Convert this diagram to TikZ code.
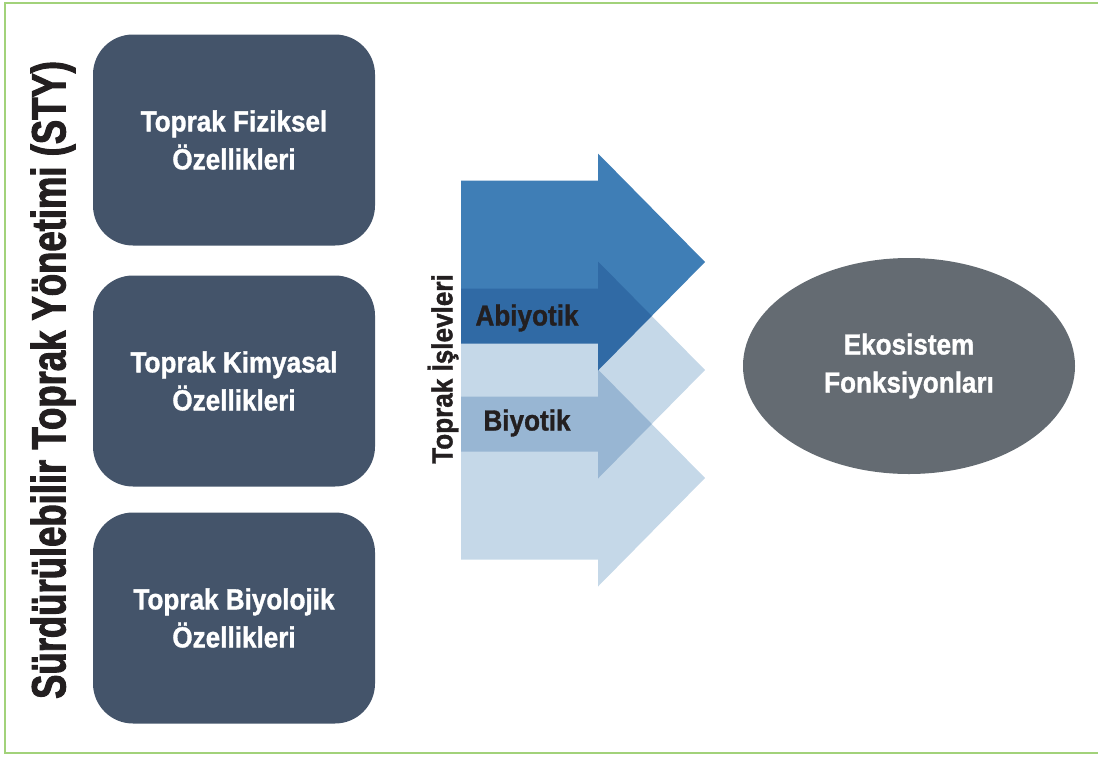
\documentclass[tikz,border=0pt]{standalone}
\usepackage{fontspec}
\setmainfont{Liberation Sans}[FakeStretch=0.9, BoldFeatures={FakeBold=1.2}]
\newfontfamily\baslikfont{Liberation Sans}[FakeStretch=0.76, BoldFeatures={FakeBold=2}]
\usepackage{tikz}
\usetikzlibrary{shapes.geometric}

\definecolor{kutumavi}{RGB}{68,84,106}
\definecolor{elipsgri}{RGB}{100,107,114}
\definecolor{okkoyu}{RGB}{63,126,182}
\definecolor{okacik}{RGB}{197,216,232}
\definecolor{cercevesi}{RGB}{162,210,122}
\definecolor{yazi}{RGB}{35,31,32}

\tikzset{
  ozellik/.style={fill=kutumavi, rounded corners=40pt, minimum width=282pt,
    minimum height=211pt, inner sep=0pt, text=white, align=center,
    font=\bfseries\fontsize{29}{38}\selectfont},
  etiket/.style={text=yazi, font=\bfseries\fontsize{29}{34}\selectfont, inner sep=0pt},
}

\begin{document}
\begin{tikzpicture}[x=1pt,y=-1pt]
\useasboundingbox (0,0) rectangle (1098,756);
\draw[cercevesi, line width=2pt] (1098,3) -- (5,3) -- (5,753) -- (1098,753);

% sol taraf
\node[etiket, rotate=90, font=\baslikfont\bfseries\fontsize{48}{50}\selectfont] (sty) at (53,380) {Sürdürülebilir Toprak Yönetimi (STY)};
\node[ozellik] (fiziksel) at (234,140) {Toprak Fiziksel\\Özellikleri};
\node[ozellik] (kimyasal) at (234,381) {Toprak Kimyasal\\Özellikleri};
\node[ozellik] (biyolojik) at (234,618) {Toprak Biyolojik\\Özellikleri};

% oklar
\begin{scope}[blend group=multiply]
\foreach \c/\renk in {478/okacik, 370/okacik, 262/okkoyu}
  \fill[\renk] (461,\c-81.5) -- (598,\c-81.5) -- (598,\c-108.5) -- (705,\c)
    -- (598,\c+108.5) -- (598,\c+81.5) -- (461,\c+81.5) -- cycle;
\end{scope}
\node[etiket, rotate=90] (islevler) at (443,369) {Toprak İşlevleri};
\node[etiket] (abiyotik) at (527,318) {Abiyotik};
\node[etiket] (biyotik) at (527,423) {Biyotik};

% sag taraf
\node[ellipse, fill=elipsgri, minimum width=332pt, minimum height=216pt, inner sep=0pt,
  text=white, align=center, font=\bfseries\fontsize{29}{38}\selectfont] (ekosistem) at (909,366) {Ekosistem\\Fonksiyonları};
\end{tikzpicture}
\end{document}
